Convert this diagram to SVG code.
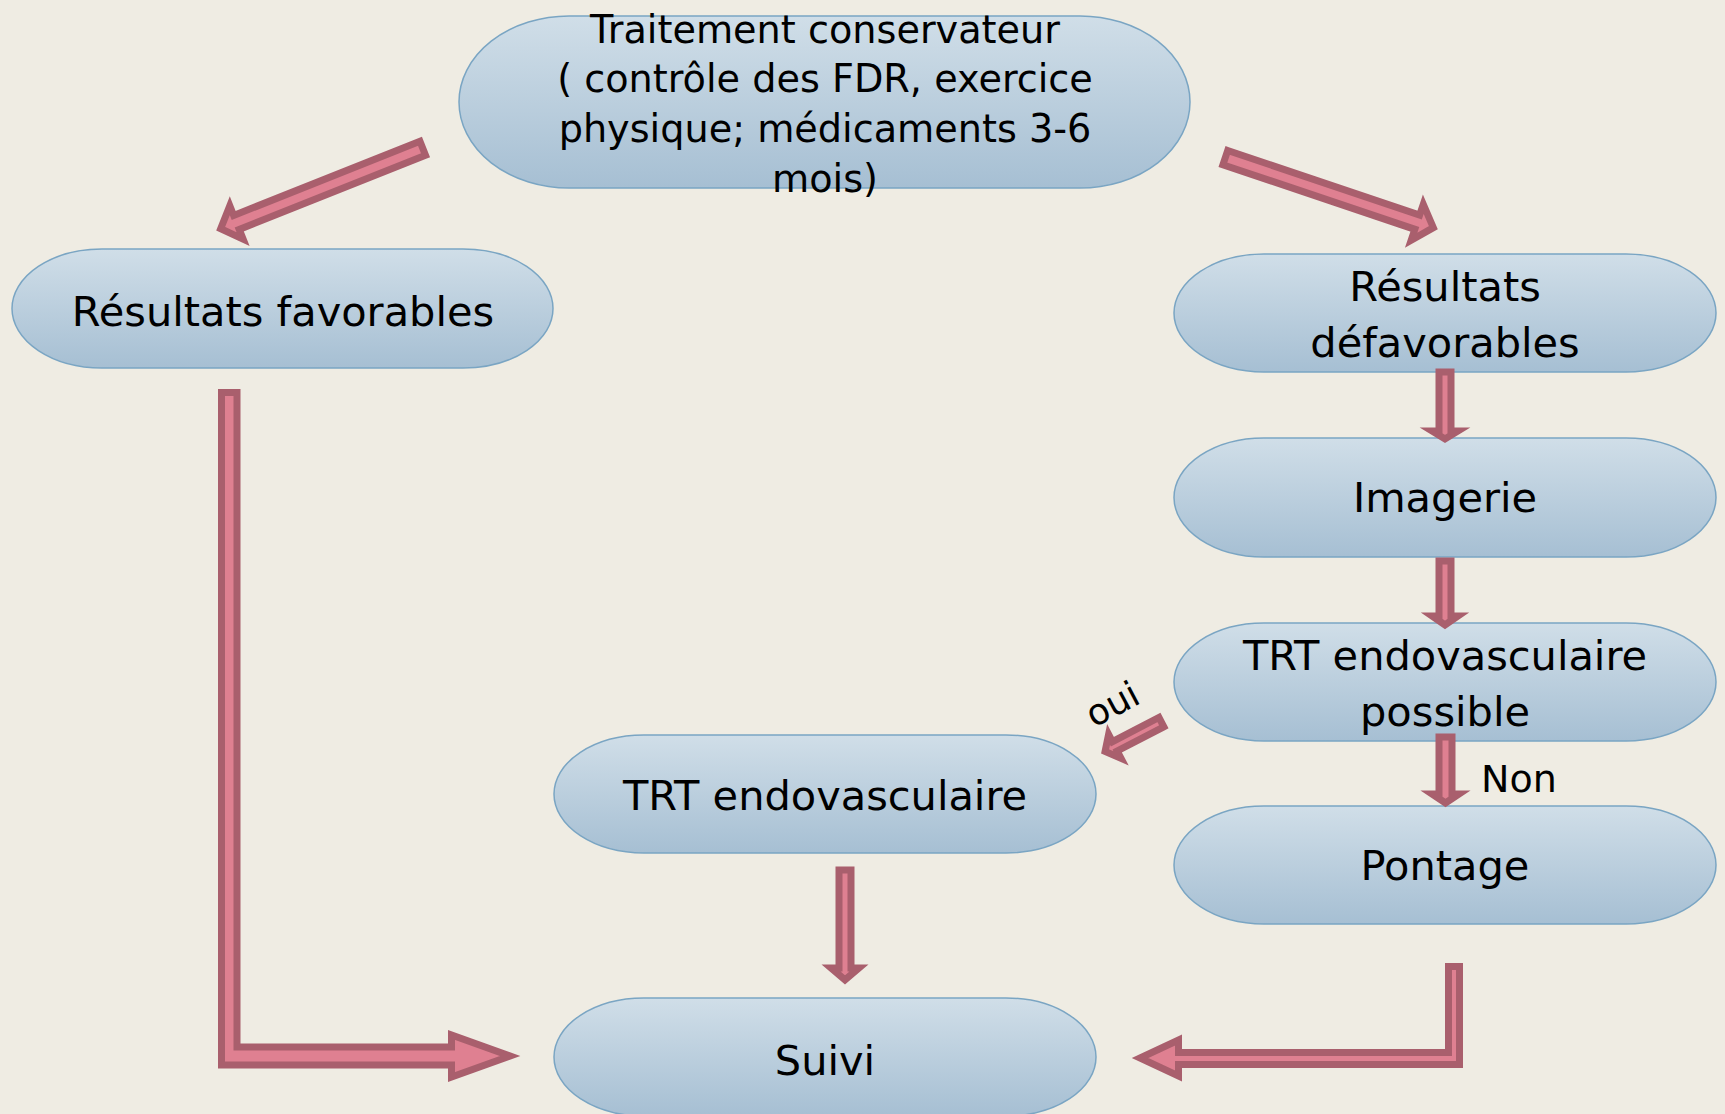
<svg xmlns="http://www.w3.org/2000/svg" width="1725" height="1114" viewBox="0 0 1725 1114">
<style>
.node{fill:url(#g);stroke:#7aa5c3;stroke-width:1.5}
.t{font-family:"DejaVu Sans","Noto Sans",sans-serif;font-size:41.5px;fill:#000;text-anchor:middle}
.h{font-size:38.2px}
.s{font-family:"DejaVu Sans","Noto Sans",sans-serif;font-size:38px;fill:#000}
.a{fill:#df8091;stroke:#a95f6d;stroke-width:7;stroke-linejoin:miter;stroke-miterlimit:10}
</style>
<defs>
<linearGradient id="g" x1="0" y1="0" x2="0" y2="1">
<stop offset="0" stop-color="#d0dee8"/>
<stop offset="1" stop-color="#a6bfd3"/>
</linearGradient>
</defs>
<rect width="1725" height="1114" fill="#efece3"/>
<g id="n-traitement">
<rect class="node" x="459" y="16" width="731" height="172" rx="110" ry="86"/>
<text class="t h" x="825" y="43">Traitement conservateur</text>
<text class="t h" x="825" y="92">( contrôle des FDR, exercice</text>
<text class="t h" x="825" y="142">physique; médicaments 3-6</text>
<text class="t h" x="825" y="192">mois)</text>
</g>
<g id="n-favorables">
<rect class="node" x="12" y="249" width="541" height="119" rx="90" ry="59.5"/>
<text class="t" x="283" y="326">Résultats favorables</text>
</g>
<g id="n-defavorables">
<rect class="node" x="1174" y="254" width="542" height="118" rx="90" ry="59"/>
<text class="t" x="1445" y="301">Résultats</text>
<text class="t" x="1445" y="357">défavorables</text>
</g>
<g id="n-imagerie">
<rect class="node" x="1174" y="438" width="542" height="119" rx="90" ry="59.5"/>
<text class="t" x="1445" y="512">Imagerie</text>
</g>
<g id="n-possible">
<rect class="node" x="1174" y="623" width="542" height="118" rx="90" ry="59"/>
<text class="t" x="1445" y="670">TRT endovasculaire</text>
<text class="t" x="1445" y="726">possible</text>
</g>
<g id="n-pontage">
<rect class="node" x="1174" y="806" width="542" height="118" rx="90" ry="59"/>
<text class="t" x="1445" y="880">Pontage</text>
</g>
<g id="n-endo">
<rect class="node" x="554" y="735" width="542" height="118" rx="90" ry="59"/>
<text class="t" x="825" y="810">TRT endovasculaire</text>
</g>
<g id="n-suivi">
<rect class="node" x="554" y="998" width="542" height="118" rx="90" ry="59"/>
<text class="t" x="825" y="1075">Suivi</text>
</g>
<g id="connectors">
<polygon class="a" transform="translate(426,147) rotate(158.3)" points="3.5,-7.5 204,-7.5 204,-18 221,0 204,18 204,7.5 3.5,7.5"/>
<polygon class="a" transform="translate(1222,156.5) rotate(18.6)" points="3.5,-7.5 206,-7.5 206,-19 223,0 206,19 206,7.5 3.5,7.5"/>
<polygon class="a" points="1439,372 1451,372 1451,431 1458,431 1445,439 1432,431 1439,431"/>
<polygon class="a" points="1439,561 1451,561 1451,616 1458,616 1445,625 1432,616 1439,616"/>
<polygon class="a" points="1439,737 1452,737 1452,794 1459,794 1445.5,803 1432,794 1439,794"/>
<polygon class="a" points="839,870 851,870 851,968 859,968 845,980 831,968 839,968"/>
<polygon class="a" transform="translate(1164.5,720.5) rotate(152.5)" points="3.5,-5.25 56,-5.25 56,-13.5 67,0 56,13.5 56,5.25 3.5,5.25"/>
<polygon class="a" points="221.5,392.5 237,392.5 237,1047 451.5,1047 451.5,1035 510,1056 451.5,1077 451.5,1065 221.5,1065"/>
<polygon class="a" points="1459.5,966.5 1459.5,1064.5 1178.5,1064.5 1178.5,1076 1140,1058 1178.5,1040 1178.5,1052.5 1448.5,1052.5 1448.5,966.5"/>
<text class="s" x="1481" y="792">Non</text>
<text class="s" transform="translate(1094,728) rotate(-28)" style="font-size:36px">oui</text>
</g>
</svg>
